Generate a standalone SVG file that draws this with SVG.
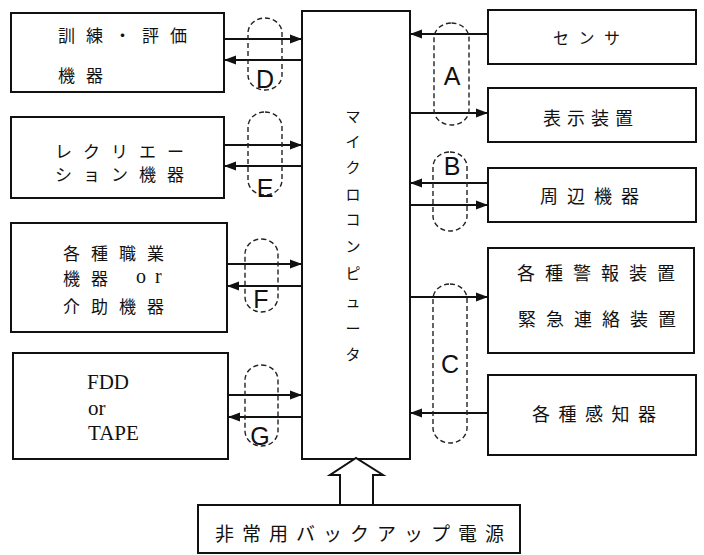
<svg xmlns="http://www.w3.org/2000/svg" width="704" height="555" viewBox="0 0 704 555">
<style>
.box{fill:#fff;stroke:#111;stroke-width:2}
.jp{font-family:"Noto Sans CJK JP","Noto Sans",sans-serif;fill:#111;dominant-baseline:central}
.lat{font-family:"Liberation Serif",serif;fill:#111}
.lbl{font-family:"Liberation Sans",sans-serif;font-size:25px;fill:#111;text-anchor:middle}
.conn line{stroke:#111;stroke-width:2}
.loop{fill:none;stroke:#222;stroke-width:1.4;stroke-dasharray:5 3}
</style>
<defs>
<marker id="ah" markerUnits="userSpaceOnUse" markerWidth="13" markerHeight="10" refX="12" refY="5" orient="auto">
<path d="M0,0.5 L12,5 L0,9.5 z" fill="#111"/>
</marker>
</defs>
<rect width="704" height="555" fill="#fff"/>

<g id="n-kunren"><rect class="box" x="11" y="13" width="213" height="79"/>
<text class="jp" x="58" y="34" font-size="17" letter-spacing="11">訓練・評価</text>
<text class="jp" x="58" y="74" font-size="17" letter-spacing="11">機器</text></g>

<g id="n-recreation"><rect class="box" x="11" y="117" width="213" height="81"/>
<text class="jp" x="55" y="150" font-size="17" letter-spacing="11">レクリエー</text>
<text class="jp" x="55" y="173" font-size="17" letter-spacing="11">ション機器</text></g>

<g id="n-shokugyo"><rect class="box" x="11" y="223" width="216" height="109"/>
<text class="jp" x="63" y="252" font-size="17" letter-spacing="11">各種職業</text>
<text class="jp" x="63" y="277" font-size="17" letter-spacing="11">機器</text>
<text class="lat" x="136" y="283" font-size="20">o</text>
<text class="lat" x="155" y="283" font-size="20">r</text>
<text class="jp" x="63" y="305" font-size="17" letter-spacing="11">介助機器</text></g>

<g id="n-fdd"><rect class="box" x="13" y="353" width="215" height="106"/>
<text class="lat" x="87" y="389" font-size="21">FDD</text>
<text class="lat" x="88" y="415" font-size="21">or</text>
<text class="lat" x="88" y="440" font-size="21">TAPE</text></g>

<g id="n-micro"><rect class="box" x="302" y="11" width="108" height="448"/>
<g class="jp" font-size="15" text-anchor="middle">
<text class="jp" x="353" y="115">マ</text>
<text class="jp" x="353" y="140">イ</text>
<text class="jp" x="353" y="166">ク</text>
<text class="jp" x="353" y="193">ロ</text>
<text class="jp" x="353" y="218">コ</text>
<text class="jp" x="353" y="245">ン</text>
<text class="jp" x="353" y="272">ピ</text>
<text class="jp" x="353" y="300">ュ</text>
<text class="jp" x="353" y="327">ー</text>
<text class="jp" x="353" y="353">タ</text>
</g></g>

<g id="n-sensor"><rect class="box" x="488" y="10" width="208" height="54"/>
<text class="jp" x="553" y="37" font-size="16" letter-spacing="9.5">センサ</text></g>

<g id="n-hyoji"><rect class="box" x="488" y="88" width="208" height="54"/>
<text class="jp" x="543" y="117" font-size="18" letter-spacing="6">表示装置</text></g>

<g id="n-shuhen"><rect class="box" x="488" y="168" width="208" height="54"/>
<text class="jp" x="540" y="195" font-size="18" letter-spacing="9">周辺機器</text></g>

<g id="n-keiho"><rect class="box" x="488" y="248" width="206" height="105"/>
<text class="jp" x="517" y="272" font-size="18" letter-spacing="10">各種警報装置</text>
<text class="jp" x="518" y="318" font-size="18" letter-spacing="10">緊急連絡装置</text></g>

<g id="n-kanchi"><rect class="box" x="488" y="375" width="208" height="80"/>
<text class="jp" x="532" y="413" font-size="18" letter-spacing="8.5">各種感知器</text></g>

<g id="n-power"><rect class="box" x="198" y="505" width="322" height="48"/>
<text class="jp" x="215" y="532" font-size="19" letter-spacing="8">非常用バックアップ電源</text></g>

<g id="connectors">
<g class="conn">
<line x1="224" y1="39" x2="302" y2="39" marker-end="url(#ah)"/>
<line x1="302" y1="60" x2="224" y2="60" marker-end="url(#ah)"/>
<line x1="224" y1="145" x2="302" y2="145" marker-end="url(#ah)"/>
<line x1="302" y1="166" x2="224" y2="166" marker-end="url(#ah)"/>
<line x1="227" y1="264" x2="302" y2="264" marker-end="url(#ah)"/>
<line x1="302" y1="286" x2="227" y2="286" marker-end="url(#ah)"/>
<line x1="228" y1="395" x2="302" y2="395" marker-end="url(#ah)"/>
<line x1="302" y1="417" x2="228" y2="417" marker-end="url(#ah)"/>
<line x1="488" y1="34" x2="410" y2="34" marker-end="url(#ah)"/>
<line x1="410" y1="113" x2="488" y2="113" marker-end="url(#ah)"/>
<line x1="488" y1="183" x2="410" y2="183" marker-end="url(#ah)"/>
<line x1="410" y1="205" x2="488" y2="205" marker-end="url(#ah)"/>
<line x1="410" y1="297" x2="488" y2="297" marker-end="url(#ah)"/>
<line x1="488" y1="413" x2="410" y2="413" marker-end="url(#ah)"/>
</g>
<polygon points="340,505 340,475 330,475 356,458 383,475 373,475 373,505" fill="#fff" stroke="#111" stroke-width="2" stroke-linejoin="miter"/>
<rect class="loop" x="248" y="18" width="34" height="72" rx="17" ry="15"/>
<rect class="loop" x="248" y="112" width="34" height="83" rx="17" ry="15"/>
<rect class="loop" x="245" y="239" width="33" height="73" rx="16.5" ry="15"/>
<rect class="loop" x="245" y="365" width="33" height="81" rx="16.5" ry="15"/>
<rect class="loop" x="434" y="23" width="35" height="102" rx="17.5" ry="15"/>
<rect class="loop" x="433" y="152" width="34" height="79" rx="17" ry="15"/>
<rect class="loop" x="433" y="284" width="34" height="159" rx="17" ry="15"/>
<text class="lbl" x="265" y="88">D</text>
<text class="lbl" x="265" y="197">E</text>
<text class="lbl" x="261" y="308">F</text>
<text class="lbl" x="260" y="445">G</text>
<text class="lbl" x="452" y="85">A</text>
<text class="lbl" x="452" y="175">B</text>
<text class="lbl" x="450" y="373">C</text>
</g>
</svg>
